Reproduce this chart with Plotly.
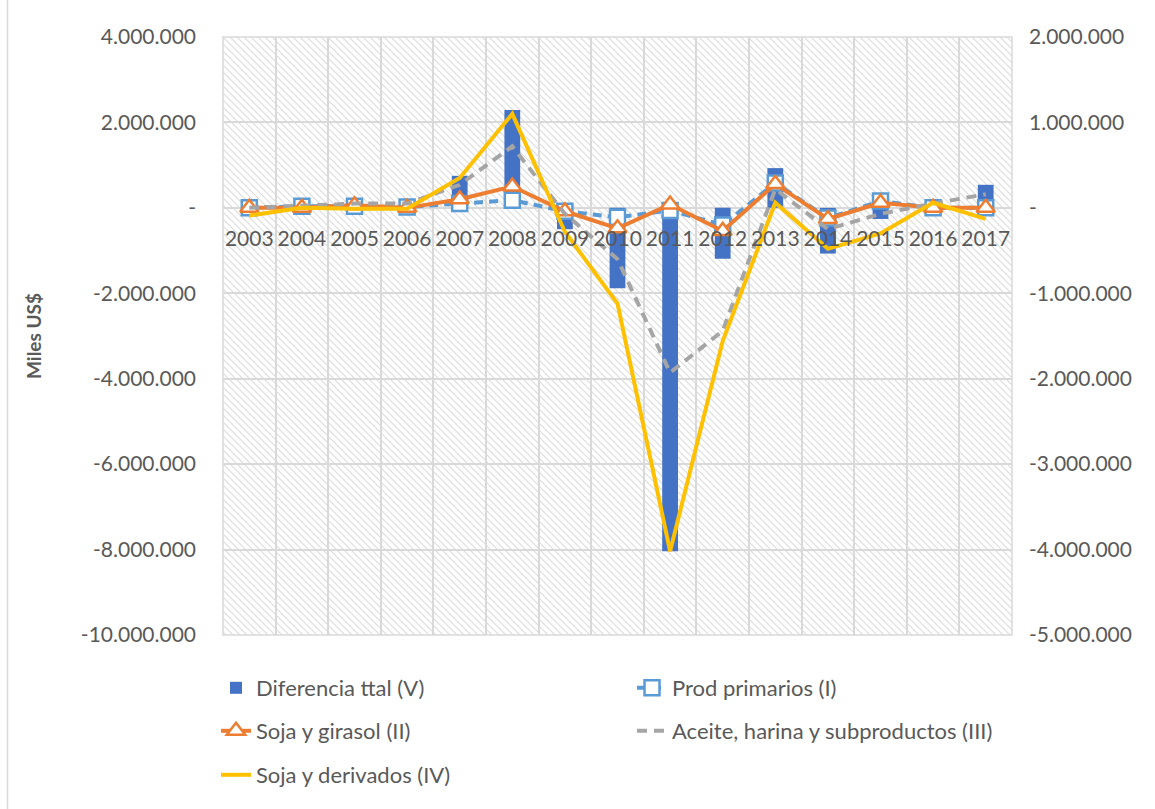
import base64
import plotly.graph_objects as go

# ---------------- data ----------------
years = [2003, 2004, 2005, 2006, 2007, 2008, 2009, 2010, 2011, 2012, 2013, 2014, 2015, 2016, 2017]
year_labels = [str(y) for y in years]

dif_total_v = [20000, 30000, 60000, 40000, 750000, 2290000, -500000, -1880000, -8040000,
               -1190000, 930000, -1070000, -260000, 50000, 540000]
prod_primarios_i = [0, 20000, 20000, 10000, 50000, 90000, -40000, -110000, -30000,
                    -200000, 290000, -120000, 80000, 0, 0]
soja_girasol_ii = [0, 0, 30000, 0, 100000, 250000, -40000, -240000, 40000,
                   -270000, 280000, -130000, 60000, 0, 0]
aceite_iii = [0, 30000, 50000, 50000, 270000, 720000, -70000, -600000, -1930000,
              -1440000, 220000, -250000, -70000, 50000, 160000]
soja_derivados_iv = [-90000, 0, -10000, -10000, 350000, 1100000, -280000, -1120000, -4020000,
                     -1560000, 60000, -480000, -300000, 60000, -130000]

left_tickvals = [4000000, 2000000, 0, -2000000, -4000000, -6000000, -8000000, -10000000]
left_ticktext = ["4.000.000", "2.000.000", "-", "-2.000.000", "-4.000.000",
                 "-6.000.000", "-8.000.000", "-10.000.000"]
right_tickvals = [2000000, 1000000, 0, -1000000, -2000000, -3000000, -4000000, -5000000]
right_ticktext = ["2.000.000", "1.000.000", "-", "-1.000.000", "-2.000.000",
                  "-3.000.000", "-4.000.000", "-5.000.000"]

names = ["Diferencia ttal (V)", "Prod primarios (I)", "Soja y girasol (II)",
         "Aceite, harina y subproductos (III)", "Soja y derivados (IV)"]

# ---------------- style ----------------
FONT = "Lato"
TXT = "#595959"
GRID = "#d9d9d9"
W, H = 1155, 809
ML, MR, MT, MB = 223, 143, 37, 174
PW, PH = W - ML - MR, H - MT - MB

# hatched plot-area background (Excel pattern fill)
svg = (
    f'<svg xmlns="http://www.w3.org/2000/svg" width="{PW}" height="{PH}">'
    '<defs><pattern id="h" patternUnits="userSpaceOnUse" width="7" height="7">'
    '<path d="M-1,-1 L8,8 M-1,6 L1,8 M6,-1 L8,1" stroke="#dcdcdc" stroke-width="1.1"/>'
    '</pattern></defs>'
    f'<rect width="{PW}" height="{PH}" fill="white"/>'
    f'<rect width="{PW}" height="{PH}" fill="url(#h)"/></svg>'
)
svg_uri = "data:image/svg+xml;base64," + base64.b64encode(svg.encode()).decode()

fig = go.Figure()

fig.add_trace(go.Bar(
    x=years, y=dif_total_v, name=names[0], width=0.3,
    marker=dict(color="#4472C4", line=dict(width=0)), legend="legend", yaxis="y"))

fig.add_trace(go.Scatter(
    x=years, y=prod_primarios_i, name=names[1], mode="lines+markers", yaxis="y2",
    line=dict(color="#5B9BD5", width=4, dash="9px,6px"),
    marker=dict(symbol="square", size=15, color="white", line=dict(color="#5B9BD5", width=2.5)),
    legend="legend2"))

fig.add_trace(go.Scatter(
    x=years, y=soja_girasol_ii, name=names[2], mode="lines+markers", yaxis="y2",
    line=dict(color="#ED7D31", width=4),
    marker=dict(symbol="triangle-up", size=16, color="white", line=dict(color="#ED7D31", width=2.5)),
    legend="legend3"))

fig.add_trace(go.Scatter(
    x=years, y=aceite_iii, name=names[3], mode="lines", yaxis="y2",
    line=dict(color="#A5A5A5", width=4, dash="10px,7px"),
    legend="legend4"))

fig.add_trace(go.Scatter(
    x=years, y=soja_derivados_iv, name=names[4], mode="lines", yaxis="y2",
    line=dict(color="#FFC000", width=4),
    legend="legend5"))

zero_pos = (0 - (-10000000)) / (4000000 - (-10000000))

legend_common = dict(
    orientation="h", xref="container", yref="container", xanchor="left", yanchor="middle",
    font=dict(family=FONT, size=22, color=TXT),
    bgcolor="rgba(0,0,0,0)", itemclick=False, borderwidth=0,
)
COL1, COL2 = 216, 632
ROWS = [688, 731, 775]

fig.update_layout(
    width=W, height=H,
    margin=dict(l=ML, r=MR, t=MT, b=MB, autoexpand=False),
    paper_bgcolor="white", plot_bgcolor="rgba(0,0,0,0)",
    font=dict(family=FONT, color=TXT),
    barmode="overlay",
    xaxis=dict(
        range=[2002.5, 2017.5], tickmode="array", tickvals=years, ticktext=year_labels,
        anchor="free", position=zero_pos, showline=False, zeroline=False, ticks="",
        ticklabelstandoff=16,
        tickfont=dict(family=FONT, size=21, color=TXT), showgrid=False,
        minor=dict(tick0=2002.5, dtick=1, showgrid=True, gridcolor=GRID, gridwidth=1.5, ticks=""),
    ),
    yaxis=dict(
        range=[-10000000, 4000000], tickmode="array", tickvals=left_tickvals, ticktext=left_ticktext,
        showgrid=True, gridcolor=GRID, gridwidth=1.5, zeroline=False, showline=False, ticks="",
        ticklabelstandoff=26,
        tickfont=dict(family=FONT, size=21, color=TXT),
        title=dict(text="<b>Miles US$</b>", font=dict(family=FONT, size=19, color=TXT), standoff=34),
    ),
    yaxis2=dict(
        range=[-5000000, 2000000], overlaying="y", side="right", tickmode="array",
        tickvals=right_tickvals, ticktext=right_ticktext, showgrid=False, zeroline=False,
        showline=False, ticks="", ticklabelstandoff=16,
        tickfont=dict(family=FONT, size=21, color=TXT),
    ),
    legend=dict(legend_common, x=COL1 / W, y=1 - ROWS[0] / H),
    legend2=dict(legend_common, x=COL2 / W, y=1 - ROWS[0] / H),
    legend3=dict(legend_common, x=COL1 / W, y=1 - ROWS[1] / H),
    legend4=dict(legend_common, x=COL2 / W, y=1 - ROWS[1] / H),
    legend5=dict(legend_common, x=COL1 / W, y=1 - ROWS[2] / H),
    images=[dict(source=svg_uri, xref="paper", yref="paper", x=0, y=1, sizex=1, sizey=1,
                 xanchor="left", yanchor="top", sizing="stretch", layer="below")],
    shapes=[
        dict(type="rect", xref="paper", yref="paper", x0=0, x1=1, y0=0, y1=1,
             line=dict(color=GRID, width=1.5), layer="below"),
        dict(type="line", xref="paper", yref="paper", x0=(7.5 - ML) / PW, x1=(7.5 - ML) / PW,
             y0=(MT + PH - H) / PH, y1=(MT + PH) / PH, line=dict(color=GRID, width=1.5)),
    ],
    showlegend=True,
)

fig.write_html("out.html")
